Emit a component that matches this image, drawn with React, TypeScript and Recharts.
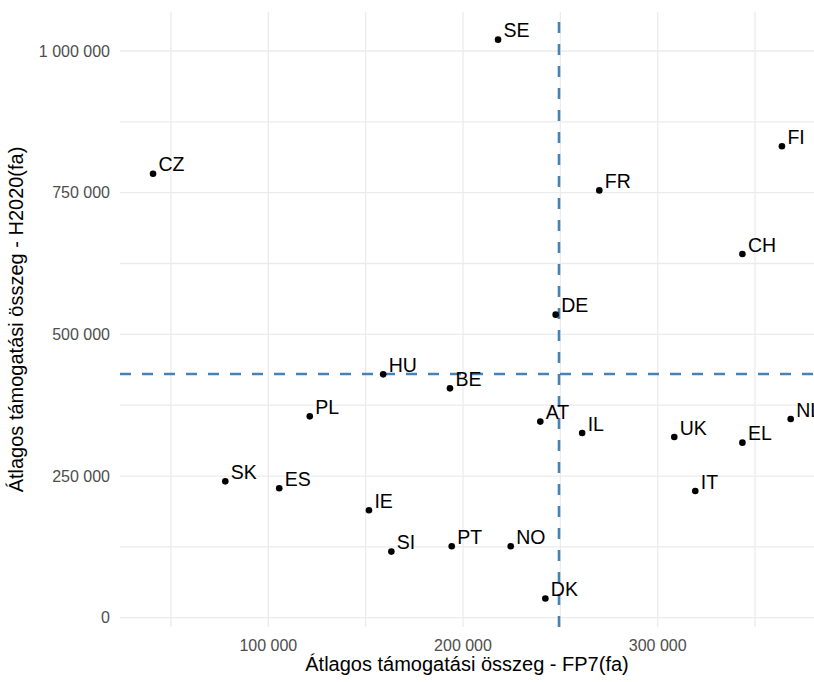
import React from 'react';
import {
  ScatterChart,
  Scatter,
  XAxis,
  YAxis,
  ReferenceLine,
  Label,
} from 'recharts';

// country codes and average grant amounts (FP7 vs H2020)
const countries = ['SE', 'CZ', 'FI', 'FR', 'CH', 'DE', 'HU', 'BE', 'PL', 'AT', 'IL', 'NL', 'UK', 'EL', 'SK', 'ES', 'IT', 'IE', 'SI', 'PT', 'NO', 'DK'];
const fp7 = [218000, 40800, 363800, 270000, 343500, 247600, 159000, 193300, 121300, 239700, 261200, 368300, 308500, 343500, 77900, 105600, 319300, 151700, 163200, 194200, 224500, 242300];
const h2020 = [1020000, 783500, 832000, 754000, 641700, 534800, 429400, 404700, 355300, 346000, 325900, 350600, 318800, 308900, 240600, 228300, 223500, 189500, 116600, 126000, 126000, 33800];

const xTicks = [100000, 200000, 300000];
const xMinor = [50000, 150000, 250000, 350000];
const yTicks = [0, 250000, 500000, 750000, 1000000];
const yMinor = [125000, 375000, 625000, 875000];

const fp7Line = 249300;
const h2020Line = 430000;

const font = '"Liberation Sans", Arial, sans-serif';
const gridColor = '#ebebeb';
const lineColor = '#4682b4';

const fmt = (v: number) => String(v).replace(/\B(?=(\d{3})+(?!\d))/g, ' ');

const data = countries.map((c, i) => ({ code: c, x: fp7[i], y: h2020[i] }));

const PointWithLabel = (props: any) => {
  const { cx, cy, payload } = props;
  return (
    <g>
      <circle cx={cx} cy={cy} r={3.3} fill="#000" />
      <text x={cx + 5.5} y={cy - 2.5} fontSize={19.5} fontFamily={font} fill="#000">
        {payload.code}
      </text>
    </g>
  );
};

export default function App() {
  return (
    <div style={{ position: 'absolute', left: 0, top: 0, width: 814, height: 682, background: '#fff' }}>
      <ScatterChart width={814} height={682} margin={{ top: 12, right: 0, bottom: 0, left: 0 }}>
        {/* grid: ggplot minimal style, major + minor lines */}
        {xMinor.concat(xTicks).map((v) => (
          <ReferenceLine key={'xg' + v} x={v} stroke={gridColor} strokeWidth={1.3} />
        ))}
        {yMinor.concat(yTicks).map((v) => (
          <ReferenceLine key={'yg' + v} y={v} stroke={gridColor} strokeWidth={1.3} />
        ))}
        <XAxis
          type="number"
          dataKey="x"
          domain={[23830, 380270]}
          allowDataOverflow
          ticks={xTicks}
          tickFormatter={fmt}
          axisLine={false}
          tickLine={false}
          tickMargin={7}
          height={55}
          tick={{ fontSize: 16, fill: '#4d4d4d', fontFamily: font }}
        >
          <Label
            value="Átlagos támogatási összeg - FP7(fa)"
            position="insideBottom"
            offset={11}
            style={{ fontSize: 20, fill: '#000', fontFamily: font }}
          />
        </XAxis>
        <YAxis
          type="number"
          dataKey="y"
          domain={[-16410, 1068820]}
          allowDataOverflow
          ticks={yTicks}
          tickFormatter={fmt}
          axisLine={false}
          tickLine={false}
          tickMargin={4}
          width={120}
          tick={{ fontSize: 16, fill: '#4d4d4d', fontFamily: font }}
        >
          <Label
            value="Átlagos támogatási összeg - H2020(fa)"
            angle={-90}
            position="insideLeft"
            offset={16}
            style={{ fontSize: 20, fill: '#000', fontFamily: font, textAnchor: 'middle' }}
          />
        </YAxis>
        <ReferenceLine x={fp7Line} stroke={lineColor} strokeWidth={2.6} strokeDasharray="11 11" />
        <ReferenceLine y={h2020Line} stroke={lineColor} strokeWidth={2.6} strokeDasharray="11 11" />
        <Scatter data={data} shape={PointWithLabel} isAnimationActive={false} />
      </ScatterChart>
    </div>
  );
}
